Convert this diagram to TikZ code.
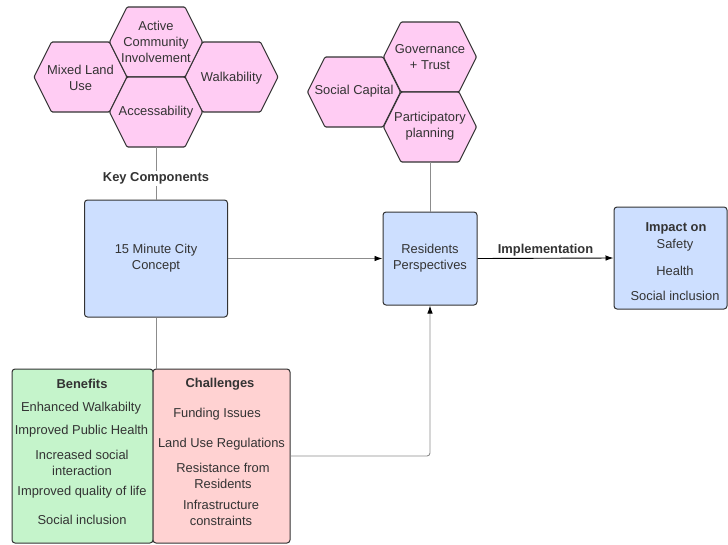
\documentclass[tikz,border=0pt]{standalone}
\usepackage{fontspec}
\setmainfont{Liberation Sans}
\usetikzlibrary{arrows.meta}
\definecolor{hexpink}{HTML}{FFCCF3}
\definecolor{boxblue}{HTML}{CDDFFF}
\definecolor{boxgreen}{HTML}{C5F4CB}
\definecolor{boxred}{HTML}{FFD2D2}
\definecolor{txt}{HTML}{333333}
\definecolor{edge}{HTML}{333333}
\definecolor{conngray}{HTML}{8C8C8C}
\newcommand{\hexcell}[5]{%
  \draw[hexshape] (#2-46.5,#3) -- (#2-29,#3-35) -- (#2+29,#3-35) -- (#2+46.5,#3) -- (#2+29,#3+35) -- (#2-29,#3+35) -- cycle;
  \coordinate (#1-s) at (#2,#3+35);
  \node[align=center] (#1) at (#2,#5+2) {#4};}
\begin{document}
\begin{tikzpicture}[x=1pt,y=-1pt,
  every node/.style={font=\fontsize{12.9}{15.8}\selectfont, text=txt, inner sep=0pt},
  hexshape/.style={draw=edge, fill=hexpink, line width=1.1pt, rounded corners=1.2pt},
  box/.style={draw=edge, line width=1pt, rounded corners=3pt, align=center},
  conn/.style={draw=conngray, line width=0.9pt},
  tip/.style={-{Latex[length=8pt,width=5.5pt,color=black]}},
  bold/.style={font=\fontsize{12.9}{15.8}\selectfont\bfseries}]
\useasboundingbox (0,0) rectangle (728,544);

% left hexagon cluster
\hexcell{mixed}{80.5}{77}{Mixed Land\\Use}{75.5}
\hexcell{walk}{231.5}{77}{Walkability}{76}
\hexcell{active}{156}{42}{Active\\Community\\Involvement}{40}
\hexcell{acc}{156}{112}{Accessability}{110}

% right hexagon cluster
\hexcell{social}{354}{92}{Social Capital}{89}
\hexcell{gov}{430}{57}{Governance\\+ Trust}{55}
\hexcell{part}{430}{127}{Participatory\\planning}{124}

% main boxes
\node[box, fill=boxblue, minimum width=143pt, minimum height=117pt] (city) at (156,258.5) {15 Minute City\\Concept};
\node[box, fill=boxblue, minimum width=94pt, minimum height=93pt] (res) at (430,258.5) {Residents\\Perspectives};
\node[box, fill=boxblue, minimum width=113pt, minimum height=102pt] (impact) at (670.5,258) {};
\node[bold] (imphead) at (676,228) {Impact on};
\node (imp1) at (675,245) {Safety};
\node (imp2) at (675,271) {Health};
\node (imp3) at (675,295.5) {Social inclusion};

\node[box, fill=boxgreen, minimum width=141pt, minimum height=174pt] (ben) at (82.5,456) {};
\node[box, fill=boxred, minimum width=137pt, minimum height=174pt] (chal) at (221.5,456) {};

\node[bold] (benhead) at (82,384) {Benefits};
\node (b1) at (81,408) {Enhanced Walkabilty};
\node (b2) at (81.5,431.5) {Improved Public Health};
\node[align=center] (b3) at (82,462.5) {Increased social\\interaction};
\node (b4) at (82,492.5) {Improved quality of life};
\node (b5) at (82,519.5) {Social inclusion};

\node[bold] (chalhead) at (220,384.5) {Challenges};
\node (c1) at (217,414.5) {Funding Issues};
\node (c2) at (221.5,444.5) {Land Use Regulations};
\node[align=center] (c3) at (223,476) {Resistance from\\Residents};
\node[align=center] (c4) at (221,512.5) {Infrastructure\\constraints};

% connectors
\draw[conn] (acc-s) -- (city.north);
\node[bold, fill=white, inner sep=2pt] (key) at (156,178.5) {Key Components};
\draw[conn] (part-s) -- (res.north);
\draw[conn, tip] (city.east) -- (res.west);
\draw[line width=0.9pt, draw=black, tip] (res.east) -- node[bold, above=2pt] (implab) {Implementation} (impact.west);
\draw[conn] (city.south) -- (city.south |- chal.north);
\draw[conn, tip, rounded corners=3pt] (chal.east) -- (res.south |- chal.east) -- (res.south);
\end{tikzpicture}
\end{document}
